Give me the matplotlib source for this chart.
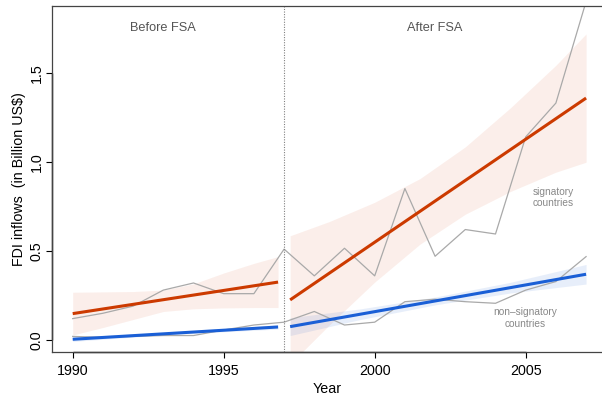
import matplotlib
matplotlib.use("Agg")
import matplotlib.pyplot as plt

plt.rcParams["font.family"] = ["Liberation Sans", "DejaVu Sans"]

# yearly FDI inflows (billion US$)
years = list(range(1990, 2008))
signatory = [0.12, 0.15, 0.19, 0.28, 0.32, 0.26, 0.26, 0.51, 0.36, 0.515,
             0.36, 0.85, 0.47, 0.62, 0.595, 1.14, 1.33, 1.90]
non_signatory = [0.02, 0.015, 0.02, 0.025, 0.025, 0.056, 0.084, 0.10, 0.16, 0.084,
                 0.10, 0.215, 0.229, 0.215, 0.206, 0.28, 0.328, 0.468]

fsa_year = 1997

# fitted trends before / after FSA
pre_x = [1990, 1996.8]
post_x = [1997.2, 2007]
sig_pre_fit = [0.148, 0.325]
sig_post_fit = [0.225, 1.358]
non_pre_fit = [0.004, 0.073]
non_post_fit = [0.075, 0.369]

# confidence bands
sig_pre_band_x = [1990, 1991, 1992, 1993, 1994, 1995, 1996, 1996.8]
sig_pre_upper = [0.268, 0.27, 0.272, 0.28, 0.315, 0.376, 0.43, 0.468]
sig_pre_lower = [0.028, 0.07, 0.115, 0.16, 0.175, 0.18, 0.182, 0.182]

sig_post_band_x = [1997.2, 1998.5, 2000, 2001.5, 2003, 2004.5, 2006, 2007]
sig_post_upper = [0.585, 0.665, 0.773, 0.906, 1.084, 1.304, 1.542, 1.718]
sig_post_lower = [-0.135, 0.085, 0.325, 0.538, 0.706, 0.834, 0.942, 0.998]

non_pre_band_x = [1990, 1993.4, 1996.8]
non_pre_upper = [0.016, 0.045, 0.085]
non_pre_lower = [-0.008, 0.033, 0.061]

non_post_band_x = [1997.2, 1999.5, 2002, 2004.5, 2007]
non_post_upper = [0.125, 0.174, 0.241, 0.324, 0.424]
non_post_lower = [0.025, 0.114, 0.197, 0.264, 0.314]

orange = "#CC3A00"
blue = "#1A5FD6"
grey = "#A9A9A9"

fig = plt.figure(figsize=(6.02, 3.98), dpi=100)
ax = fig.add_axes([0.0869, 0.1156, 0.9131, 0.8694])

ax.fill_between(sig_pre_band_x, sig_pre_lower, sig_pre_upper,
                color="#D9461A", alpha=0.09, lw=0)
ax.fill_between(sig_post_band_x, sig_post_lower, sig_post_upper,
                color="#D9461A", alpha=0.09, lw=0)
ax.fill_between(non_pre_band_x, non_pre_lower, non_pre_upper,
                color="#1A5FD0", alpha=0.10, lw=0)
ax.fill_between(non_post_band_x, non_post_lower, non_post_upper,
                color="#1A5FD0", alpha=0.10, lw=0)

ax.plot(years, signatory, color=grey, lw=0.9)
ax.plot(years, non_signatory, color=grey, lw=0.9)

ax.plot(pre_x, sig_pre_fit, color=orange, lw=2.2, solid_capstyle="butt")
ax.plot(post_x, sig_post_fit, color=orange, lw=2.2, solid_capstyle="butt")
ax.plot(pre_x, non_pre_fit, color=blue, lw=2.2, solid_capstyle="butt")
ax.plot(post_x, non_post_fit, color=blue, lw=2.2, solid_capstyle="butt")

ax.axvline(fsa_year, color="#808080", lw=0.8, ls=(0, (1, 1.3)))

ax.set_xlim(1989.325, 2007.527)
ax.set_ylim(-0.0674, 1.875)

ax.text(1993, 1.75, "Before FSA", ha="center", va="center",
        fontsize=9.2, color="#555555")
ax.text(2002, 1.75, "After FSA", ha="center", va="center",
        fontsize=9.2, color="#555555")
ax.text(2005.9, 0.80, "signatory\ncountries", ha="center", va="center",
        fontsize=7.3, color="#888888", linespacing=1.2)
ax.text(2005.0, 0.125, "non\u2013signatory\ncountries", ha="center", va="center",
        fontsize=7.3, color="#888888", linespacing=1.2)

# box in dark grey, axis lines in black over the tick range
for side in ("left", "top", "bottom"):
    ax.spines[side].set_color("#444444")
    ax.spines[side].set_linewidth(0.9)
ax.spines["right"].set_visible(False)
ax.plot([1990, 2005], [-0.0674, -0.0674], color="black", lw=1.0,
        clip_on=False, solid_capstyle="butt")
ax.plot([1989.325, 1989.325], [0, 1.5], color="black", lw=1.0,
        clip_on=False, solid_capstyle="butt")

ax.set_xticks([1990, 1995, 2000, 2005])
ax.set_yticks([0.0, 0.5, 1.0, 1.5])
ax.set_yticklabels(["0.0", "0.5", "1.0", "1.5"], rotation=90, va="center")
ax.tick_params(axis="both", direction="out", length=4.5, width=0.8,
               labelsize=10.3, color="black")
ax.tick_params(axis="x", pad=4.5)
ax.tick_params(axis="y", pad=1.5)

ax.set_xlabel("Year", fontsize=10.3, labelpad=2.5)
ax.set_ylabel("FDI inflows  (in Billion US$)", fontsize=10.3, labelpad=3)

fig.savefig("out.png", dpi=100)
